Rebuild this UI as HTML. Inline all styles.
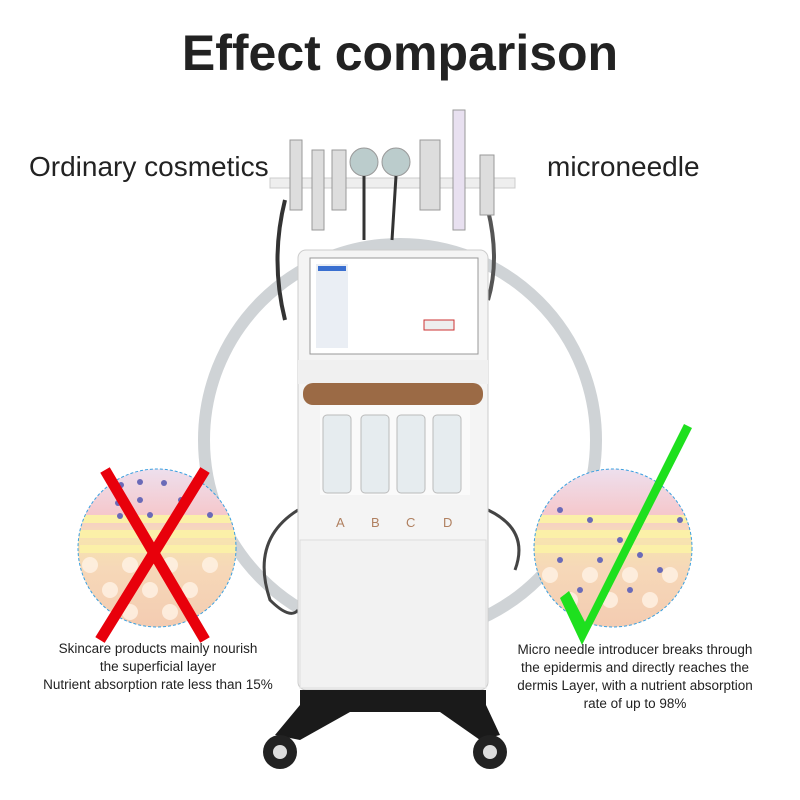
<!DOCTYPE html>
<html><head><style>
body{margin:0;width:800px;height:800px;background:#fff;position:relative;overflow:hidden;font-family:"Liberation Sans",sans-serif}
.t{position:absolute;color:#222;white-space:nowrap}
</style></head><body>
<svg width="800" height="800" style="position:absolute;left:0;top:0">
<defs>
<linearGradient id="sk" x1="0" y1="0" x2="0" y2="1">
<stop offset="0" stop-color="#ece4f4"/><stop offset="0.3" stop-color="#f5c8cc"/><stop offset="0.45" stop-color="#f7e3b0"/><stop offset="0.6" stop-color="#f6d8b8"/><stop offset="1" stop-color="#f3c9b0"/>
</linearGradient>
<clipPath id="c1"><circle cx="157" cy="548" r="79"/></clipPath>
<clipPath id="c2"><circle cx="613" cy="548" r="79"/></clipPath>
</defs>
<circle cx="400" cy="440" r="196" fill="none" stroke="#cfd3d6" stroke-width="12"/>
<path d="M285 200 Q270 260 285 320" stroke="#333" stroke-width="4" fill="none"/>
<path d="M488 210 Q500 260 488 300" stroke="#555" stroke-width="4" fill="none"/>
<path d="M298 510 Q250 540 270 600 Q290 620 298 610" stroke="#444" stroke-width="3" fill="none"/>
<path d="M488 510 Q530 530 515 570" stroke="#444" stroke-width="3" fill="none"/>
<rect x="270" y="178" width="245" height="10" fill="#eee" stroke="#ccc"/>
<g fill="#ddd" stroke="#999">
<rect x="290" y="140" width="12" height="70"/><rect x="312" y="150" width="12" height="80"/>
<rect x="332" y="150" width="14" height="60"/><circle cx="364" cy="162" r="14" fill="#bcc"/>
<circle cx="396" cy="162" r="14" fill="#bcc"/><rect x="420" y="140" width="20" height="70"/>
<rect x="453" y="110" width="12" height="120" fill="#e8e0f0"/><rect x="480" y="155" width="14" height="60"/>
</g>
<line x1="364" y1="176" x2="364" y2="240" stroke="#333" stroke-width="3"/>
<line x1="396" y1="176" x2="392" y2="240" stroke="#333" stroke-width="3"/>
<rect x="298" y="250" width="190" height="440" rx="8" fill="#f4f4f4" stroke="#ccc"/>
<rect x="310" y="258" width="168" height="96" fill="#fff" stroke="#999"/>
<rect x="316" y="264" width="32" height="84" fill="#eaeef4"/>
<rect x="318" y="266" width="28" height="5" fill="#3a6fd0"/>
<rect x="424" y="320" width="30" height="10" fill="#eee" stroke="#c33"/>
<rect x="298" y="360" width="190" height="24" fill="#f0f0f0"/>
<rect x="303" y="383" width="180" height="22" rx="10" fill="#9b6a45"/>
<rect x="320" y="405" width="150" height="90" fill="#fafafa"/>
<g fill="#e6ecef" stroke="#bbb">
<rect x="323" y="415" width="28" height="78" rx="4"/><rect x="361" y="415" width="28" height="78" rx="4"/>
<rect x="397" y="415" width="28" height="78" rx="4"/><rect x="433" y="415" width="28" height="78" rx="4"/>
</g>
<rect x="300" y="540" width="186" height="148" fill="#f2f2f2" stroke="#ddd"/>
<text x="336" y="527" font-size="13" fill="#b08060" font-family="Liberation Sans">A</text>
<text x="371" y="527" font-size="13" fill="#b08060" font-family="Liberation Sans">B</text>
<text x="406" y="527" font-size="13" fill="#b08060" font-family="Liberation Sans">C</text>
<text x="443" y="527" font-size="13" fill="#b08060" font-family="Liberation Sans">D</text>
<path d="M300 690 L486 690 L486 705 L500 735 L480 740 L440 712 L350 712 L300 740 L275 735 L300 705Z" fill="#1a1a1a"/>
<circle cx="280" cy="752" r="17" fill="#222"/><circle cx="280" cy="752" r="7" fill="#ddd"/>
<circle cx="490" cy="752" r="17" fill="#222"/><circle cx="490" cy="752" r="7" fill="#ddd"/>
<g clip-path="url(#c1)">
<rect x="70" y="460" width="180" height="180" fill="url(#sk)"/>
<g fill="#fbf0a8"><rect x="80" y="515" width="160" height="8"/><rect x="80" y="530" width="160" height="8"/><rect x="80" y="545" width="160" height="8"/></g>
<g fill="#fff3e6" opacity="0.8"><circle cx="90" cy="565" r="8"/><circle cx="130" cy="565" r="8"/><circle cx="170" cy="565" r="8"/><circle cx="210" cy="565" r="8"/><circle cx="110" cy="590" r="8"/><circle cx="150" cy="590" r="8"/><circle cx="190" cy="590" r="8"/><circle cx="130" cy="612" r="8"/><circle cx="170" cy="612" r="8"/></g>
<g fill="#6a6ab8"><circle cx="121" cy="485" r="3"/><circle cx="140" cy="482" r="3"/><circle cx="118" cy="503" r="3"/><circle cx="140" cy="500" r="3"/><circle cx="164" cy="483" r="3"/><circle cx="181" cy="500" r="3"/><circle cx="150" cy="515" r="3"/><circle cx="120" cy="516" r="3"/><circle cx="210" cy="515" r="3"/></g>
</g>
<circle cx="157" cy="548" r="79" fill="none" stroke="#3aa0e0" stroke-dasharray="3 2"/>
<path d="M105 470 L205 640 M205 470 L100 640" stroke="#e8000b" stroke-width="11"/>
<g clip-path="url(#c2)">
<rect x="530" y="460" width="180" height="180" fill="url(#sk)"/>
<g fill="#fbf0a8"><rect x="535" y="515" width="160" height="8"/><rect x="535" y="530" width="160" height="8"/><rect x="535" y="545" width="160" height="8"/></g>
<g fill="#fff3e6" opacity="0.8"><circle cx="550" cy="575" r="8"/><circle cx="590" cy="575" r="8"/><circle cx="630" cy="575" r="8"/><circle cx="670" cy="575" r="8"/><circle cx="570" cy="600" r="8"/><circle cx="610" cy="600" r="8"/><circle cx="650" cy="600" r="8"/></g>
<g fill="#6a6ab8"><circle cx="560" cy="510" r="3"/><circle cx="590" cy="520" r="3"/><circle cx="620" cy="540" r="3"/><circle cx="600" cy="560" r="3"/><circle cx="640" cy="555" r="3"/><circle cx="560" cy="560" r="3"/><circle cx="580" cy="590" r="3"/><circle cx="630" cy="590" r="3"/><circle cx="660" cy="570" r="3"/><circle cx="680" cy="520" r="3"/></g>
</g>
<circle cx="613" cy="548" r="79" fill="none" stroke="#3aa0e0" stroke-dasharray="3 2"/>
<polygon points="560,598 569,591 585,622 684,424 692,428 582,645" fill="#1ee01e"/>
</svg>
<div class="t" style="left:0;width:800px;text-align:center;top:24px;font-size:50px;font-weight:bold;color:#222">Effect comparison</div>
<div class="t" style="left:29px;top:151px;font-size:28px">Ordinary cosmetics</div>
<div class="t" style="left:547px;top:151px;font-size:28px">microneedle</div>
<div class="t" style="left:18px;width:280px;text-align:center;top:640px;font-size:13.5px;line-height:18px">Skincare products mainly nourish<br>the superficial layer<br>Nutrient absorption rate less than 15%</div>
<div class="t" style="left:500px;width:270px;text-align:center;top:641px;font-size:13.5px;line-height:18px">Micro needle introducer breaks through<br>the epidermis and directly reaches the<br>dermis Layer, with a nutrient absorption<br>rate of up to 98%</div>
</body></html>
